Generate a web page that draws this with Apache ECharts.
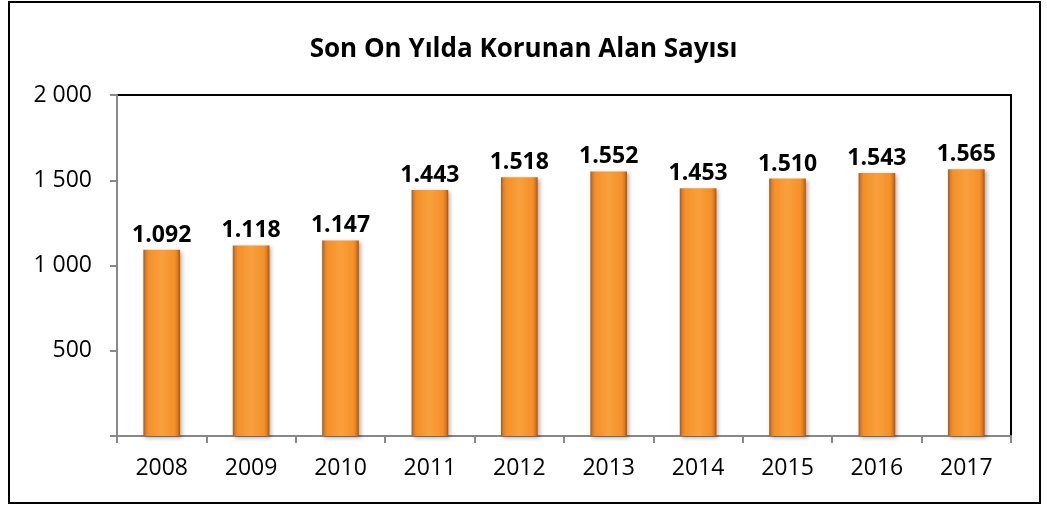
<!DOCTYPE html>
<html>
<head>
<meta charset="utf-8">
<script src="https://cdn.jsdelivr.net/npm/echarts@6/dist/echarts.min.js"></script>
<style>
  html, body { margin: 0; padding: 0; background: #fff; }
  #chart { width: 1047px; height: 505px; }
</style>
</head>
<body>
<div id="chart"></div>
<script>
  const years = ['2008', '2009', '2010', '2011', '2012', '2013', '2014', '2015', '2016', '2017']
  const areaCounts = [1092, 1118, 1147, 1443, 1518, 1552, 1453, 1510, 1543, 1565]
  const yTicks = [0, 500, 1000, 1500, 2000]

  const chart = echarts.init(document.getElementById('chart'))
  const fontFamily = '"Open Sans", sans-serif'

  // bevel look: thin dark edges, bright orange body
  const barColor = new echarts.graphic.LinearGradient(0, 0, 1, 0, [
    { offset: 0, color: '#a9561a' },
    { offset: 0.07, color: '#e07f22' },
    { offset: 0.14, color: '#f4902a' },
    { offset: 0.5, color: '#f9a03c' },
    { offset: 0.86, color: '#f4902a' },
    { offset: 0.93, color: '#dc7c22' },
    { offset: 1, color: '#a35318' }
  ])

  chart.setOption({
    animation: false,
    title: {
      text: 'Son On Yılda Korunan Alan Sayısı',
      left: 'center',
      top: 32,
      textStyle: { fontFamily, fontSize: 26, fontWeight: 'bold', color: '#000' }
    },
    graphic: [{
      type: 'rect',
      shape: { x: 9, y: 2, width: 1031, height: 501 },
      style: { fill: 'none', stroke: '#000', lineWidth: 2 },
      silent: true
    }],
    grid: {
      left: 117, right: 36, top: 95, bottom: 69,
      show: true,
      borderColor: '#000',
      borderWidth: 2
    },
    xAxis: {
      type: 'category',
      data: years,
      axisLine: { lineStyle: { color: '#888', width: 2 } },
      axisTick: { show: true, length: 7, lineStyle: { color: '#888', width: 2 } },
      axisLabel: { color: '#000', fontFamily, fontSize: 23, margin: 21 }
    },
    yAxis: {
      type: 'value',
      min: yTicks[0],
      max: yTicks[yTicks.length - 1],
      interval: 500,
      splitLine: { show: false },
      axisLine: { show: true, lineStyle: { color: '#888', width: 2 } },
      axisTick: { show: true, length: 7, lineStyle: { color: '#888', width: 2 } },
      axisLabel: {
        color: '#000',
        fontFamily,
        fontSize: 23,
        margin: 25,
        formatter: v => v === 0 ? '' : String(v).replace(/\B(?=(\d{3})+(?!\d))/g, ' ')
      }
    },
    series: [{
      type: 'bar',
      data: areaCounts,
      barWidth: '41%',
      itemStyle: {
        color: barColor,
        shadowBlur: 4,
        shadowColor: 'rgba(0,0,0,0.3)',
        shadowOffsetX: 2,
        shadowOffsetY: 2
      },
      label: {
        show: true,
        position: 'top',
        distance: 3,
        color: '#000',
        fontFamily,
        fontSize: 23,
        fontWeight: 'bold',
        formatter: p => String(p.value).replace(/\B(?=(\d{3})+(?!\d))/g, '.')
      }
    }]
  })
</script>
</body>
</html>
